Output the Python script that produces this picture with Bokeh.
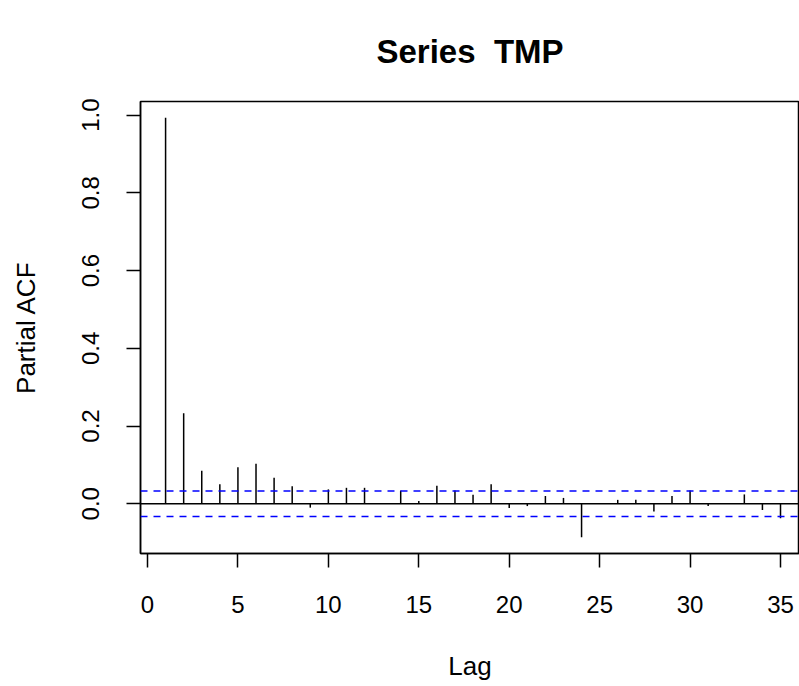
from bokeh.plotting import figure
from bokeh.models import ColumnDataSource, Range1d, Span, FixedTicker
from bokeh.embed import file_html
from bokeh.resources import INLINE

# Data
lags = list(range(1, 36))
pacf = [0.993, 0.233, 0.085, 0.050, 0.094, 0.103, 0.067, 0.045, -0.010, 0.037,
        0.041, 0.041, 0.002, 0.034, 0.007, 0.046, 0.034, 0.023, 0.050, -0.011,
        -0.006, 0.020, 0.015, -0.086, 0.001, 0.010, 0.010, -0.020, 0.020, 0.034,
        -0.006, 0.001, 0.024, -0.016, -0.037]
conf_limit = 0.0325
x_ticks = [0, 5, 10, 15, 20, 25, 30, 35]
y_ticks = [0.0, 0.2, 0.4, 0.6, 0.8, 1.0]
title_text = "Series \u00a0TMP"

FONT = "Liberation Sans"

src = ColumnDataSource(dict(lag=lags, pacf=pacf, base=[0.0] * len(lags)))

p = figure(width=799, height=686, output_backend="svg", toolbar_location=None,
           x_range=Range1d(-0.387, 36.05), y_range=Range1d(-0.128, 1.035),
           min_border_left=140, min_border_right=0, min_border_top=101,
           min_border_bottom=133)

xax = p.below[0]
yax = p.left[0]

p.title.text = title_text
p.title.text_font = FONT
p.title.text_font_size = "33px"
p.title.text_font_style = "bold"
p.title.align = "center"
p.title.vertical_align = "top"
p.title.text_color = "black"
p.title.standoff = 60

p.xgrid.visible = False
p.ygrid.visible = False
p.background_fill_color = "white"
p.border_fill_color = "white"
p.outline_line_color = "black"
p.outline_line_width = 1.5

p.segment(x0="lag", y0="base", x1="lag", y1="pacf", source=src,
          line_color="black", line_width=1.5)

p.add_layout(Span(location=0, dimension="width", line_color="black", line_width=1.5))
p.add_layout(Span(location=conf_limit, dimension="width", line_color="#0000ff",
                  line_width=1.5, line_dash="7 6"))
p.add_layout(Span(location=-conf_limit, dimension="width", line_color="#0000ff",
                  line_width=1.5, line_dash="7 6"))

for ax in (xax, yax):
    ax.axis_line_color = "black"
    ax.axis_line_width = 1.5
    ax.major_tick_line_color = "black"
    ax.major_tick_line_width = 1.5
    ax.major_tick_in = 0
    ax.major_tick_out = 14
    ax.minor_tick_line_color = None
    ax.major_label_text_font = FONT
    ax.major_label_text_font_size = "24px"
    ax.major_label_text_color = "black"
    ax.axis_label_text_font = FONT
    ax.axis_label_text_font_size = "26px"
    ax.axis_label_text_font_style = "normal"
    ax.axis_label_text_color = "black"

xax.ticker = FixedTicker(ticks=x_ticks)
yax.ticker = FixedTicker(ticks=y_ticks)
yax.major_label_overrides = {t: f"{t:.1f}" for t in y_ticks}
yax.major_label_orientation = "vertical"

xax.axis_label = "Lag"
yax.axis_label = "Partial ACF"
xax.major_label_standoff = 28
xax.axis_label_standoff = 35
yax.major_label_standoff = 27
yax.axis_label_standoff = 39

open("out.html", "w").write(file_html(p, INLINE))
